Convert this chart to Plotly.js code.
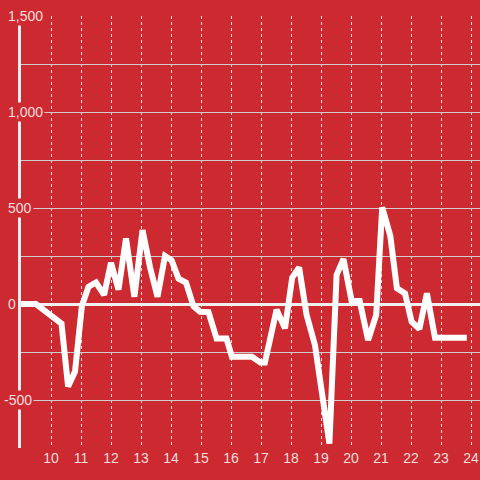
<!DOCTYPE html>
<html>
<head>
<meta charset="utf-8">
<script src="https://cdn.plot.ly/plotly-3.0.1.min.js"></script>
<style>html,body{margin:0;padding:0;background:#cc2a30;}#chart{width:480px;height:480px;}</style>
</head>
<body>
<div id="chart"></div>
<script>
const hours = [9.0, 9.5, 10.35, 10.57, 10.8, 11.03, 11.25, 11.5, 11.77, 12.0, 12.25, 12.5, 12.78, 13.05, 13.3, 13.55, 13.8, 14.02, 14.25, 14.5, 14.75, 14.97, 15.25, 15.52, 15.85, 16.03, 16.7, 16.98, 17.13, 17.52, 17.8, 18.04, 18.27, 18.52, 18.8, 19.28, 19.52, 19.75, 20.02, 20.29, 20.57, 20.84, 21.04, 21.31, 21.53, 21.8, 22.02, 22.28, 22.53, 22.8, 23.86];
const values = [0, 0, -102, -430, -352, -10, 90, 112, 48, 215, 75, 342, 38, 385, 192, 38, 250, 228, 132, 112, -12, -40, -42, -180, -180, -275, -275, -305, -305, -30, -127, 138, 190, -56, -215, -727, 152, 234, 16, 16, -188, -57, 503, 355, 82, 55, -92, -130, 56, -176, -176];
const yTickVals = [1500, 1000, 500, 0, -500];
const yTickText = ['1,500', '1,000', '500', '0', '-500'];
const xTickVals = [10, 11, 12, 13, 14, 15, 16, 17, 18, 19, 20, 21, 22, 23, 24];

const bg = '#cc2a30';
const labelColor = 'rgba(255,255,255,0.85)';
const fontFam = '"Liberation Sans", Arial, sans-serif';

const trace = {
  x: hours, y: values, type: 'scatter', mode: 'lines',
  line: {color: '#ffffff', width: 6},
  hoverinfo: 'skip'
};

const annotations = yTickVals.map((v, i) => ({
  xref: 'paper', yref: 'y', x: 0, y: v,
  text: yTickText[i], showarrow: false,
  xanchor: 'left', yanchor: 'middle',
  xshift: v < 0 ? -19 : -15,
  bgcolor: bg, borderpad: 1,
  font: {family: fontFam, size: 14, color: labelColor}
}));

const layout = {
  width: 480, height: 480,
  paper_bgcolor: bg, plot_bgcolor: bg,
  margin: {l: 21, r: 0, t: 16, b: 32, pad: 0},
  showlegend: false,
  font: {family: fontFam, size: 14, color: labelColor},
  xaxis: {
    range: [9, 24.3], tickvals: xTickVals, ticks: '',
    showgrid: true, gridcolor: 'rgba(255,255,255,0.85)', griddash: 'dot', gridwidth: 1,
    zeroline: false, showline: false,
    tickfont: {family: fontFam, size: 14, color: labelColor}
  },
  yaxis: {
    range: [-750, 1500], dtick: 250, tick0: 0, showticklabels: false, ticks: '',
    showgrid: true, gridcolor: '#cfcfcf', gridwidth: 1,
    zeroline: true, zerolinecolor: '#f0f0f0', zerolinewidth: 3,
    showline: true, linecolor: '#eeeeee', linewidth: 3
  },
  annotations: annotations
};

Plotly.newPlot('chart', [trace], layout, {staticPlot: true, displayModeBar: false});
</script>
</body>
</html>
